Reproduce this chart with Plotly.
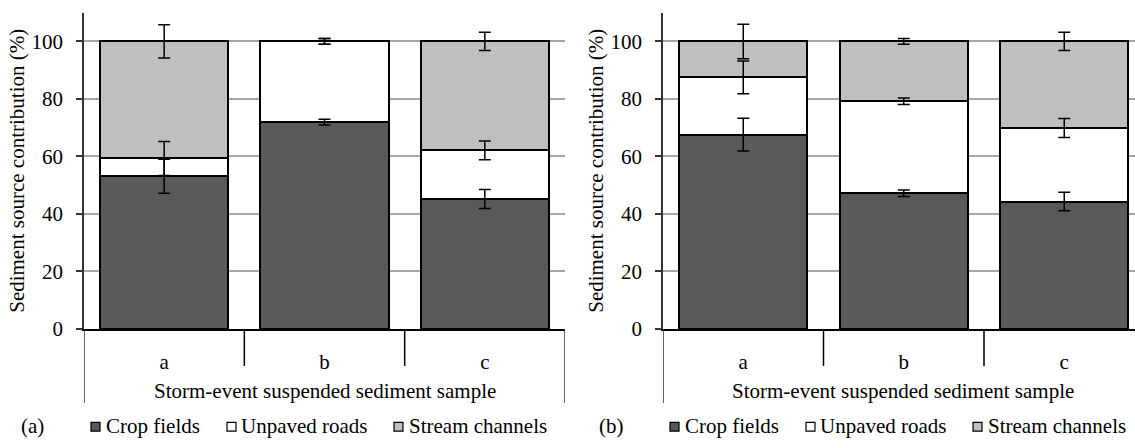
import numpy as np
import plotly.graph_objects as go

W, H = 1135, 448

samples = ["a", "b", "c"]
sources = ["Crop fields", "Unpaved roads", "Stream channels"]
colors = ["#595959", "#ffffff", "#bfbfbf"]

# Panel (a)
a_crop = [53.1, 71.9, 45.2]
a_roads = [6.2, 28.1, 16.9]
a_stream = [40.7, 0.0, 37.9]
a_crop_err = [5.9, 1.0, 3.3]
a_roads_err = [5.9, 1.0, 3.3]
a_stream_err = [5.8, 1.0, 3.2]

# Panel (b)
b_crop = [67.6, 47.2, 44.3]
b_roads = [19.9, 32.0, 25.6]
b_stream = [12.5, 20.8, 30.1]
b_crop_err = [5.7, 1.1, 3.2]
b_roads_err = [5.7, 1.1, 3.3]
b_stream_err = [6.0, 1.0, 3.2]

y_ticks = [0, 20, 40, 60, 80, 100]
x_title = "Storm-event suspended sediment sample"
y_title = "Sediment source contribution (%)"
panel_labels = ["(a)", "(b)"]

FONT = "Liberation Serif"
FS = 21


def px(x):
    return x / W


def py(y):
    return (H - y) / H


fig = go.Figure()

panels = [
    ("x", "y", [a_crop, a_roads, a_stream], [a_crop_err, a_roads_err, a_stream_err]),
    ("x2", "y2", [b_crop, b_roads, b_stream], [b_crop_err, b_roads_err, b_stream_err]),
]
for xa, ya, vals, errs in panels:
    for name, v, c in zip(sources, vals, colors):
        fig.add_trace(go.Bar(
            x=samples, y=v, name=name, xaxis=xa, yaxis=ya,
            width=0.8,
            marker=dict(color=c, line=dict(color="black", width=2)),
            showlegend=False,
        ))
    # error bars at the top of each stacked segment, drawn above all bars
    tops = np.cumsum(np.array(vals), axis=0)
    for top, e in zip(tops, errs):
        fig.add_trace(go.Scatter(
            x=samples, y=top.tolist(), mode="markers", xaxis=xa, yaxis=ya,
            marker=dict(size=0.1, color="rgba(0,0,0,0)"),
            error_y=dict(type="data", array=e, visible=True, color="black",
                         thickness=1.5, width=6),
            showlegend=False, hoverinfo="skip",
        ))

# geometry (pixels)
TOP, BOT = 13, 338
left_dom = [px(84), px(565)]
right_dom = [px(663), 1.0]
right_range_end = -0.5 + (1135 - 663) / 160.5

ycommon = dict(range=[0, 110], tickvals=y_ticks, showgrid=True, gridcolor="#a6a6a6",
               gridwidth=1.5, showline=True, linecolor="#333333", linewidth=1.5,
               ticks="outside", ticklen=6, tickcolor="#333333", tickwidth=1.5,
               zeroline=False, tickfont=dict(family=FONT, size=FS, color="black"),
               ticklabelstandoff=9, domain=[py(BOT), py(TOP)])
xcommon = dict(type="category", showline=True, linecolor="black", linewidth=1.5,
               ticks="", showgrid=False, zeroline=False,
               tickfont=dict(family=FONT, size=FS, color="black"),
               ticklabelstandoff=13)

fig.update_layout(
    width=W, height=H, margin=dict(l=0, r=0, t=0, b=0),
    paper_bgcolor="white", plot_bgcolor="white",
    barmode="stack", showlegend=False,
    font=dict(family=FONT, size=FS, color="black"),
    xaxis=dict(xcommon, domain=left_dom, range=[-0.5, 2.5], anchor="y"),
    yaxis=dict(ycommon, anchor="x"),
    xaxis2=dict(xcommon, domain=right_dom, range=[-0.5, right_range_end], anchor="y2"),
    yaxis2=dict(ycommon, anchor="x2"),
)

shapes = []
annotations = []
for xref, dom, off, lab in [("x", left_dom, 0, panel_labels[0]), ("x2", right_dom, 579, panel_labels[1])]:
    for b in [0.5, 1.5]:
        shapes.append(dict(type="line", xref=xref, yref="paper", x0=b, x1=b,
                           y0=py(BOT), y1=py(376), line=dict(color="black", width=1.5)))
    for b in [-0.5, 2.5]:
        shapes.append(dict(type="line", xref=xref, yref="paper", x0=b, x1=b,
                           y0=py(BOT), y1=py(414), line=dict(color="#333333", width=1.5)))
    cx = px((84 + 565) / 2 + off)
    annotations.append(dict(text=x_title, xref="paper", yref="paper", x=cx, y=py(402),
                            showarrow=False, xanchor="center", yanchor="middle",
                            font=dict(family=FONT, size=FS, color="black")))
    annotations.append(dict(text=y_title, xref="paper", yref="paper", x=px(17 + off), y=py((TOP + BOT) / 2),
                            showarrow=False, textangle=-90, xanchor="center", yanchor="middle",
                            font=dict(family=FONT, size=FS, color="black")))
    annotations.append(dict(text=lab, xref="paper", yref="paper", x=px(32 + off), y=py(438),
                            showarrow=False, xanchor="center", yanchor="middle",
                            font=dict(family=FONT, size=FS, color="black")))
    for (sx, tx), name, c in zip([(91, 104), (227, 239), (394, 407)], sources, colors):
        shapes.append(dict(type="rect", xref="paper", yref="paper",
                           x0=px(sx + off), x1=px(sx + off + 9), y0=py(443), y1=py(434),
                           fillcolor=c, line=dict(color="black", width=1.2)))
        annotations.append(dict(text=name, xref="paper", yref="paper", x=px(tx + off), y=py(438),
                                showarrow=False, xanchor="left", yanchor="middle",
                                font=dict(family=FONT, size=FS, color="black")))

fig.update_layout(shapes=shapes, annotations=annotations)
fig.write_html("out.html")
